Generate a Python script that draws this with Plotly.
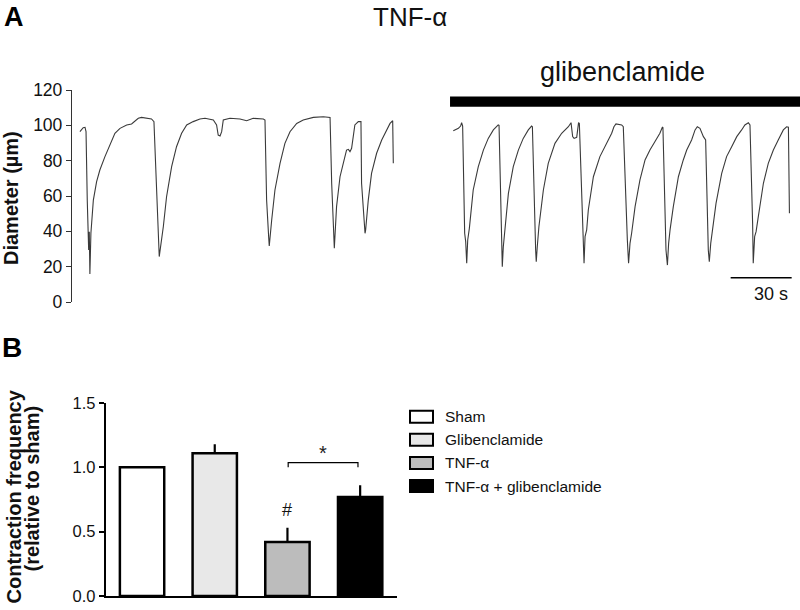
import plotly.graph_objects as go

# ---------------- data ----------------
# Panel A: diameter traces (time in s, diameter in µm)
t_ctrl = [0, 1.6, 2.5, 3.0, 3.6, 4.3, 4.6, 4.9, 5.4, 6.6, 8.2, 9.8, 12.3, 14.8, 17.2, 19.7, 23.0, 25.4,
          27.0, 28.7, 30.3, 32.8, 35.2, 36.4, 37.7, 39.0, 41.0, 42.6, 45.1, 47.5, 50.0, 52.5, 55.7,
          59.0, 61.5, 65.6, 67.2, 68.0, 68.9, 69.7, 70.5, 73.8, 78.7, 82.0, 85.2, 90.2, 91.0, 91.8,
          92.8, 93.1, 94.3, 95.9, 98.4, 100.8, 103.3, 106.6, 109.8, 114.8, 119.7, 123.0, 123.8,
          125.1, 126.2, 127.9, 129.5, 131.1, 132.0, 132.8, 133.6, 134.4, 135.2, 136.9, 138.2,
          138.5, 140.2, 140.5, 141.8, 143.4, 145.9, 148.4, 150.8, 152.5, 153.8, 154.1]
d_ctrl = [96.4, 98.7, 98.9, 96.4, 57.7, 29.4, 39.8, 15.8, 38.9, 57.7, 68.1, 74.7, 82.3, 88.9, 95.5,
          98.3, 100.2, 100.8, 102.6, 104.0, 104.5, 104.0, 103.6, 102.1, 57.7, 25.7, 42.6, 59.6,
          76.6, 87.9, 95.5, 100.2, 102.1, 103.6, 104.0, 103.0, 100.2, 94.5, 94.0, 96.4, 103.0,
          104.0, 103.6, 102.6, 104.0, 103.6, 103.0, 57.7, 37.0, 31.7, 46.4, 63.4, 78.5, 89.8,
          96.4, 101.1, 103.0, 104.5, 104.9, 104.5, 67.2, 30.4, 54.0, 70.9, 78.5, 86.0, 86.4,
          85.1, 87.0, 95.5, 100.2, 102.1, 102.1, 67.2, 38.9, 40.8, 57.7, 72.8, 84.2, 91.7, 97.4,
          101.1, 102.6, 78.5]

t_glib = [183.6, 186.1, 187.2, 187.7, 188.2, 189.2, 189.7, 190.2, 190.7, 191.5, 193.4, 195.9, 198.4,
          200.8, 203.3, 205.7, 206.1, 207.4, 207.7, 208.2, 209.0, 210.7, 213.1, 215.6, 218.0,
          220.5, 222.1, 222.5, 224.1, 224.4, 224.9, 225.7, 227.9, 230.3, 233.6, 236.9, 240.2,
          241.5, 242.3, 243.0, 244.3, 244.8, 245.2, 245.6, 247.5, 247.9, 248.4, 249.2, 250.0,
          252.5, 255.7, 259.0, 261.5, 262.6, 263.6, 266.4, 267.2, 269.2, 269.8, 270.5, 271.3,
          273.0, 275.4, 277.9, 280.3, 282.8, 285.2, 286.4, 286.7, 288.2, 288.9, 289.5, 290.2,
          291.8, 294.3, 296.7, 298.4, 300.8, 302.5, 303.6, 304.9, 306.6, 307.7, 309.0, 309.5,
          310.2, 311.1, 312.8, 315.6, 318.0, 320.5, 323.0, 325.4, 327.0, 328.7, 329.5, 330.8,
          331.1, 331.8, 332.5, 333.6, 336.1, 338.5, 341.0, 343.4, 345.9, 347.5, 348.4, 348.9]
d_glib = [97.0, 98.3, 99.6, 101.5, 99.6, 38.9, 34.2, 21.9, 35.1, 41.7, 63.4, 76.6, 86.0, 92.6, 97.4,
          100.2, 100.0, 33.2, 20.0, 31.3, 42.6, 61.5, 76.6, 86.0, 92.6, 97.4, 99.6, 99.2, 29.4,
          22.8, 31.3, 42.6, 63.4, 78.5, 89.8, 95.5, 99.2, 101.5, 93.6, 92.6, 93.2, 97.4, 101.5,
          101.1, 31.3, 21.9, 37.0, 40.8, 52.1, 70.9, 82.3, 89.8, 95.5, 99.2, 100.8, 100.2, 99.2,
          35.1, 21.9, 33.2, 38.9, 54.0, 69.1, 80.4, 86.0, 90.8, 95.5, 98.9, 98.7, 29.4, 20.9,
          33.2, 40.8, 54.0, 70.9, 80.4, 86.0, 91.7, 97.4, 99.2, 98.3, 93.6, 91.7, 29.4, 22.8,
          33.2, 40.8, 55.8, 72.8, 82.3, 87.9, 93.6, 97.4, 100.2, 101.5, 100.2, 44.5, 21.9, 37.0,
          39.8, 48.3, 67.2, 78.5, 86.0, 91.7, 97.4, 99.2, 98.9, 50.2]

diam_ticks = [0, 20, 40, 60, 80, 100, 120]
glib_period = [182.0, 360.0]   # s, application of glibenclamide
scale_bar = [320.0, 350.0]     # 30 s

# Panel B: contraction frequency
groups = ["Sham", "Glibenclamide", "TNF-α", "TNF-α + glibenclamide"]
freq = [1.0, 1.11, 0.42, 0.77]
freq_err = [0.0, 0.07, 0.11, 0.09]
freq_ticks = [0.0, 0.5, 1.0, 1.5]
freq_ticktext = ["0.0", "0.5", "1.0", "1.5"]

# ---------------- styles ----------------
bar_colors = ["#ffffff", "#e8e8e8", "#bcbcbc", "#000000"]
FONT = "Liberation Sans, Arial, sans-serif"
W, H = 800, 610


def px(x):
    return x / W


def py(y):
    return 1 - y / H


fig = go.Figure()

fig.add_trace(go.Scatter(x=t_ctrl, y=d_ctrl, mode="lines", line=dict(color="#3a3a3a", width=1.1),
                         xaxis="x", yaxis="y", showlegend=False, hoverinfo="skip"))
fig.add_trace(go.Scatter(x=t_glib, y=d_glib, mode="lines", line=dict(color="#3a3a3a", width=1.1),
                         xaxis="x", yaxis="y", showlegend=False, hoverinfo="skip"))

fig.add_trace(go.Bar(x=list(range(len(groups))), y=freq, xaxis="x2", yaxis="y2",
                     marker=dict(color=bar_colors, line=dict(color="black", width=2.5)),
                     width=0.61,
                     error_y=dict(type="data", array=freq_err, arrayminus=[0] * len(freq),
                                  symmetric=False, color="black", thickness=2.2, width=0),
                     showlegend=False, hoverinfo="skip"))

shapes = []
annotations = []


def note(text, x, y, size, xref="paper", yref="paper", angle=0, color="#111", **kw):
    annotations.append(dict(text=text, x=x, y=y, xref=xref, yref=yref, showarrow=False,
                            xanchor=kw.get("xanchor", "center"),
                            yanchor=kw.get("yanchor", "middle"),
                            textangle=angle, font=dict(size=size, color=color, family=FONT)))


# glibenclamide bar
shapes.append(dict(type="rect", xref="x", yref="y", x0=glib_period[0], x1=glib_period[1],
                   y0=110.5, y1=116.3, fillcolor="black", line=dict(width=0), layer="above"))
# scale bar
shapes.append(dict(type="line", xref="x", yref="y", x0=scale_bar[0], x1=scale_bar[1],
                   y0=13.7, y1=13.7, line=dict(color="black", width=1.5)))
note("30 s", scale_bar[1] - 10, 4.3, 18, xref="x", yref="y")

# significance bracket
shapes.append(dict(type="path", xref="x2", yref="y2",
                   path="M 2.01,1.0 L 2.01,1.036 L 2.97,1.036 L 2.97,1.0",
                   line=dict(color="black", width=1.2)))
note("*", 2.49, 1.115, 20, xref="x2", yref="y2", color="#222")
note("#", 2.0, 0.668, 18, xref="x2", yref="y2")

# panel labels / titles
note("<b>A</b>", px(13.5), 1.0, 27, color="#000", yanchor="top")
note("<b>B</b>", px(12), py(347.5), 28, color="#000")
note("TNF-α", px(410), py(17.5), 26)
note("glibenclamide", px(622), py(72), 27)

# y-axis titles
note("<b>Diameter (µm)</b>", px(11.5), py(198.5), 20, angle=-90)
note("<b>Contraction frequency</b>", px(13), py(496.5), 20, angle=-90)
note("<b>(relative to sham)</b>", px(31.5), py(489), 20, angle=-90)

# legend (manual)
for i, (g, c) in enumerate(zip(groups, bar_colors)):
    yc = 416.7 + i * 23.1
    shapes.append(dict(type="rect", xref="paper", yref="paper", x0=px(410), x1=px(433),
                       y0=py(yc + 6), y1=py(yc - 6), fillcolor=c,
                       line=dict(color="black", width=2)))
    note(g, px(443), py(yc), 15.5, xanchor="left")

fig.update_layout(
    width=W, height=H,
    margin=dict(l=0, r=0, t=0, b=0, autoexpand=False),
    paper_bgcolor="white", plot_bgcolor="white",
    font=dict(family=FONT, color="#111"),
    barmode="overlay",
    showlegend=False,
    xaxis=dict(domain=[px(72), 1.0], range=[-3.9, 354.1], visible=False, anchor="y"),
    yaxis=dict(domain=[py(302), py(90)], range=[0, 120], anchor="x",
               tickvals=diam_ticks, ticks="outside", ticklen=5, tickwidth=1.2, tickcolor="#333",
               showline=True, linecolor="#333", linewidth=1.3, showgrid=False, zeroline=False,
               tickfont=dict(size=17.5, color="#111", family=FONT)),
    xaxis2=dict(domain=[px(105.7), px(396.5)], range=[-0.5, 3.5], anchor="y2",
                showline=True, linecolor="black", linewidth=2, showticklabels=False,
                ticks="", showgrid=False, zeroline=False),
    yaxis2=dict(domain=[py(596), py(403)], range=[0, 1.5], anchor="x2",
                tickvals=freq_ticks, ticktext=freq_ticktext, ticks="outside", ticklen=5,
                tickwidth=1.5, tickcolor="black",
                showline=True, linecolor="black", linewidth=2, showgrid=False, zeroline=False,
                tickfont=dict(size=16.5, color="#111", family=FONT)),
    shapes=shapes,
    annotations=annotations,
)

fig.write_html("out.html", config={"displayModeBar": False},
               post_script="document.body.style.margin='0';")
